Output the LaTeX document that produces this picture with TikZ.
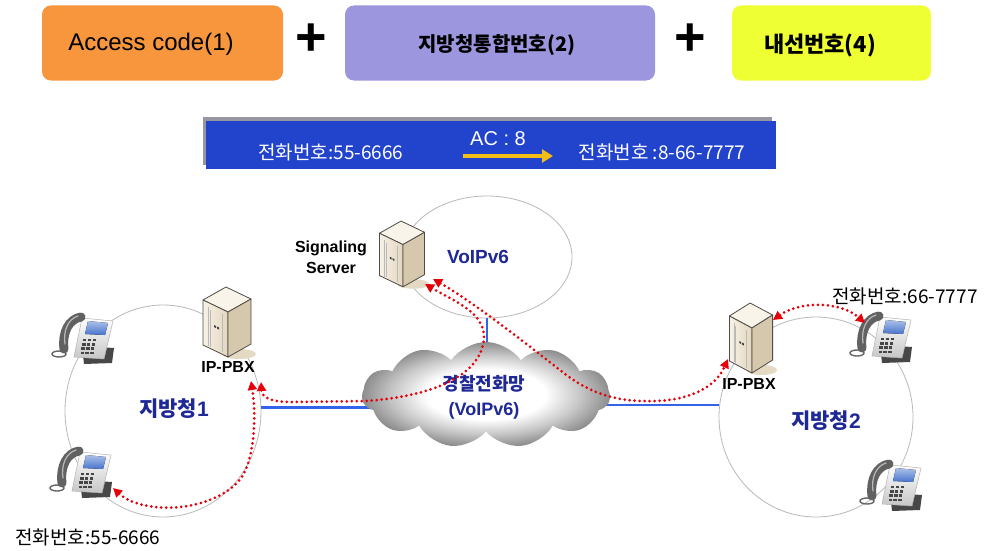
\documentclass[tikz,border=0pt]{standalone}
\usepackage{fontspec}
\setmainfont{Liberation Sans}
\newfontfamily\krfont{Noto Sans CJK KR}
\usetikzlibrary{arrows.meta,shapes.symbols,shapes.geometric,calc}

\newcommand\fsz[2]{\fontsize{#1}{#2}\selectfont}

\definecolor{boxorange}{RGB}{247,150,60}
\definecolor{boxlav}{RGB}{156,150,222}
\definecolor{boxyellow}{RGB}{238,255,51}
\definecolor{barblue}{RGB}{34,68,204}
\definecolor{barshadow}{RGB}{150,150,160}
\definecolor{navy}{RGB}{30,40,150}
\definecolor{netblue}{RGB}{50,100,235}
\definecolor{sigred}{RGB}{230,0,10}
\definecolor{arrowgold}{RGB}{240,190,20}
\definecolor{srvtop}{RGB}{248,244,234}
\definecolor{srvfrontA}{RGB}{247,242,231}
\definecolor{srvfrontB}{RGB}{226,214,190}
\definecolor{srvside}{RGB}{214,200,172}
\definecolor{srvedge}{RGB}{80,75,70}
\definecolor{srvshadow}{RGB}{228,218,196}
\definecolor{phonescreen}{RGB}{70,115,205}

\pgfdeclareradialshading{cloudshade}{\pgfpoint{0bp}{0bp}}{%
  color(0bp)=(white); color(12bp)=(white); color(19bp)=(gray!45);
  color(25bp)=(gray!90); color(50bp)=(gray!90)}

\tikzset{
  % isometric tower server
  server/.pic={
    \fill[srvshadow] (12,33) ellipse [x radius=17, y radius=5];
    \draw[srvedge, line width=0.8pt, line join=round, fill=srvtop]
      (-24,-21) -- (-1,-34) -- (24,-22) -- (1,-9) -- cycle;
    \draw[srvedge, line width=0.8pt, line join=round, left color=srvfrontA, right color=srvfrontB]
      (-24,-21) -- (1,-9) -- (1,36) -- (-24,24) -- cycle;
    \draw[srvedge, line width=0.8pt, line join=round, fill=srvside]
      (1,-9) -- (24,-22) -- (24,23) -- (1,36) -- cycle;
    \draw[gray!55, line width=0.5pt] (-19,-14) -- (-19,25) (-5,-7) -- (-5,31) (-17,-11) -- (-17,26);
    \fill[black!75] (-13,4) -- (-11,5) -- (-11,7) -- (-13,6) -- cycle;
    \fill[black!75] (-10,5.5) -- (-8,6.5) -- (-8,8.5) -- (-10,7.5) -- cycle;
  },
  % desk telephone
  phone/.pic={
    \fill[black!72] (0,8) -- (32,10) -- (30,25) -- (2,26) -- cycle;
    \draw[black!60, line width=1.4pt] (-23,16) ellipse [x radius=7, y radius=3];
    \draw[gray!60, line width=0.5pt, top color=white, bottom color=gray!45]
      (0,-20) -- (31,-17) -- (22,21) -- (-8,19) -- cycle;
    \fill[top color=phonescreen!45, bottom color=phonescreen] (6,-17) -- (26,-15) -- (23,-3) -- (3,-4) -- cycle;
    \foreach \r in {0,...,3}{\foreach \c in {0,1,2}{
      \fill[gray!55!black] ({1+4.8*\c-0.8*\r},{1+4.2*\r}) rectangle ++(3.4,2.4);}}
    \draw[black!62, line width=9pt, line cap=round] (-1,-21) .. controls (-13,-19) and (-20,-6) .. (-18,11);
    \draw[gray!55, line width=1.2pt, line cap=round] (-4,-22) .. controls (-14,-19) and (-19,-7) .. (-17,6);
  }
}

\begin{document}
\begin{tikzpicture}[x=1pt,y=-1pt,
  keybox/.style={rounded corners=9pt, inner sep=0pt},
  site/.style={ellipse, draw=gray!55, line width=0.8pt, inner sep=0pt},
  netline/.style={draw=netblue, line width=2.6pt},
  sigpath/.style={draw=sigred, line width=3pt, dash pattern=on 0pt off 5pt, line cap=round,
    arrows={Triangle[length=9pt,width=9pt]-Triangle[length=9pt,width=9pt]}},
  goldarrow/.style={draw=arrowgold, line width=4pt, arrows={-Triangle[length=11pt,width=13pt]}},
  navylabel/.style={text=navy, inner sep=0pt},
  numlabel/.style={inner sep=0pt, font=\krfont\fsz{19}{22}},
  pluslabel/.style={inner sep=0pt, font=\bfseries\fsz{54}{54}},
  devlabel/.style={inner sep=0pt, font=\bfseries\fsz{16}{21}, align=center},
  anchorbox/.style={inner sep=0pt, minimum width=48pt, minimum height=71pt},
  phonebox/.style={inner sep=0pt, minimum width=62pt, minimum height=46pt}
]
\useasboundingbox (0,0) rectangle (987,551);
\fill[white] (0,0) rectangle (987,551);

% ---- dialling scheme: three number parts
\node[keybox, fill=boxorange, minimum width=241pt, minimum height=75pt] (boxAC) at (162.5,43) {};
\node[inner sep=0pt, font=\fsz{24}{28}] (txtAC) at (151,44) {Access code(1)};
\node[pluslabel] (plusA) at (311,40) {+};
\node[keybox, fill=boxlav, minimum width=310pt, minimum height=75pt] (boxRG) at (500,43) {};
\node[inner sep=0pt, font=\krfont\bfseries\fsz{20}{24}] (txtRG) at (497,45) {지방청통합번호(2)};
\node[pluslabel] (plusB) at (690,40) {+};
\node[keybox, fill=boxyellow, minimum width=199pt, minimum height=75pt] (boxEX) at (831.5,43) {};
\node[inner sep=0pt, font=\krfont\bfseries\fsz{22}{26}] (txtEX) at (820,45) {내선번호(4)};

% ---- conversion example bar
\fill[barshadow] (203,117) rectangle (772,165);
\fill[barblue] (206,121) rectangle (776,169);
\node[numlabel, text=white] (numA) at (331,152) {전화번호:55-6666};
\node[numlabel, text=white] (numB) at (662,152) {전화번호 :8-66-7777};
\coordinate (acA) at (463,156);
\coordinate (acB) at (553,156);
\draw[goldarrow] (acA) -- (acB);
\node[inner sep=0pt, text=white, font=\fsz{20}{24}] (acT) at (498,139) {AC : 8};

% ---- network domains
\node[site, minimum width=196pt, minimum height=212pt] (siteL) at (163,411) {};
\node[site, minimum width=194pt, minimum height=200pt] (siteR) at (816,417) {};
\node[site, minimum width=170pt, minimum height=122pt] (vo) at (487,257) {};
\node[inner sep=0pt, minimum width=248pt, minimum height=106pt] (netbox) at (486,395) {};

% ---- trunk links
\draw[netline] (siteL.2) -- (siteL.2 -| netbox.center);
\draw[netline] (siteR.173) -- (siteR.173 -| netbox.center);
\draw[netline] (vo.south) -- (vo.south |- netbox.center);

% ---- police network cloud
\node[cloud, cloud puffs=11, cloud puff arc=110, aspect=2.3, minimum width=248pt, minimum height=106pt,
      inner sep=0pt, shade, shading=cloudshade] (net) at (486,395) {};
\node[navylabel, align=center, font=\bfseries\fsz{18}{25}] (netT) at (484,397) {{\krfont 경찰전화망}\\(VoIPv6)};

% ---- servers
\node[anchorbox] (sig) at (402,253) {};
\pic[scale=0.94] at (sig) {server};
\node[anchorbox] (pbxL) at (227,321) {};
\pic at (pbxL) {server};
\node[anchorbox] (pbxR) at (751,337) {};
\pic[xscale=0.9] at (pbxR) {server};

% ---- telephones
\node[phonebox] (telL1) at (82,338) {};
\pic at (telL1) {phone};
\node[phonebox] (telL2) at (80,472) {};
\pic at (telL2) {phone};
\node[phonebox] (telR1) at (880,337) {};
\pic at (telR1) {phone};
\node[phonebox] (telR2) at (890,485) {};
\pic at (telR2) {phone};

% ---- labels
\node[devlabel] (sigT) at (331,257) {Signaling\\Server};
\node[navylabel, font=\bfseries\fsz{19}{22}] (voT) at (478,257) {VoIPv6};
\node[devlabel] (pbxLT) at (228,367) {IP-PBX};
\node[devlabel] (pbxRT) at (749,384) {IP-PBX};
\node[navylabel, font=\fsz{21}{24}] (siteLT) at (174,409) {{\krfont\bfseries 지방청}\textbf{1}};
\node[navylabel, font=\fsz{21}{24}] (siteRT) at (826,421) {{\krfont\bfseries 지방청}\textbf{2}};
\node[numlabel] (telLT) at (88,537) {전화번호:55-6666};
\node[numlabel] (telRT) at (905,296) {전화번호:66-7777};

% ---- signalling paths
\coordinate (L1a) at (113,488);
\coordinate (L1b) at (251,381);
\coordinate (Aa) at (261,382);
\coordinate (Ab) at (425,284);
\coordinate (Ba) at (433,279);
\coordinate (Bb) at (728,359);
\coordinate (Ra) at (773,320);
\coordinate (Rb) at (865,323);

\draw[sigpath] (L1a) .. controls (140,513) and (205,515) .. (238,482)
                     .. controls (256,462) and (256,412) .. (L1b);
\draw[sigpath] (Aa) .. controls (262,398) and (272,402) .. (292,402) -- (365,401)
                    .. controls (440,396) and (482,372) .. (484,338)
                    .. controls (485,312) and (452,300) .. (Ab);
\draw[sigpath] (Ba) .. controls (470,300) and (515,335) .. (560,370)
                    .. controls (592,396) and (620,402) .. (655,401)
                    .. controls (692,400) and (716,386) .. (Bb);
\draw[sigpath] (Ra) .. controls (800,301) and (840,301) .. (Rb);
\end{tikzpicture}
\end{document}
